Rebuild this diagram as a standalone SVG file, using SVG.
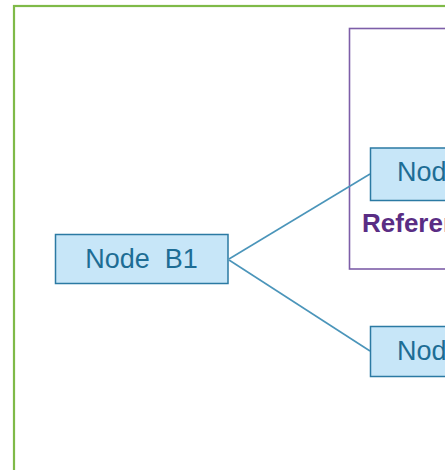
<svg xmlns="http://www.w3.org/2000/svg" width="445" height="470" viewBox="0 0 445 470">
<style>
.node rect{fill:#c7e6f8;stroke:#2b7aa3;stroke-width:1.5}
.node text{font-family:"Liberation Sans",Arial,sans-serif;font-size:27px;fill:#1d6d95}
.conn line{stroke:#4b95ba;stroke-width:1.6}
.frame{fill:none}
</style>
<rect id="outer" class="frame" x="14" y="6" width="460" height="480" stroke="#7fba48" stroke-width="2.2"/>
<g id="reference">
<rect class="frame" x="349.5" y="28.5" width="120" height="240.5" stroke="#7d5ea8" stroke-width="1.6"/>
<text x="362" y="231.5" font-family="Liberation Sans,Arial,sans-serif" font-weight="bold" font-size="26" fill="#5a2d84">Reference</text>
</g>
<g id="connectors" class="conn">
<line x1="229" y1="259" x2="370" y2="174"/>
<line x1="229" y1="260" x2="370" y2="351"/>
</g>
<g id="nodeB1" class="node">
<rect x="55.5" y="234.5" width="172.5" height="49"/>
<text x="141.5" y="268" text-anchor="middle" xml:space="preserve">Node  B1</text>
</g>
<g id="nodeTop" class="node">
<rect x="370.5" y="148" width="172" height="52.5"/>
<text x="397" y="181">Node</text>
</g>
<g id="nodeBottom" class="node">
<rect x="370.5" y="326.5" width="172" height="50"/>
<text x="397" y="360">Node</text>
</g>
</svg>
